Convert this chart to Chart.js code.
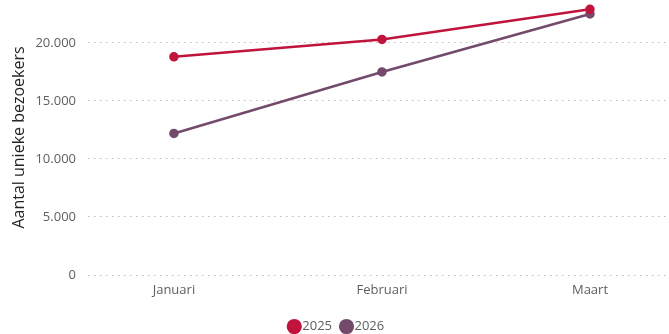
<!DOCTYPE html>
<html>
<head>
<meta charset="utf-8">
<script src="https://cdn.jsdelivr.net/npm/chart.js@4.4.1/dist/chart.umd.min.js"></script>
<style>
  html, body { margin: 0; padding: 0; background: #fff; }
  #wrap { width: 669px; height: 334px; }
</style>
</head>
<body>
<div id="wrap"><canvas id="c"></canvas></div>
<script>
// Monthly unique visitors, two years side by side
const months = ['Januari', 'Februari', 'Maart'];
const visitors2025 = [18800, 20300, 22900];
const visitors2026 = [12200, 17500, 22500];
const yTicks = [0, 5000, 10000, 15000, 20000];

const FONT = '"Segoe UI", "Open Sans", sans-serif';

const toPoints = arr => arr.map((v, i) => ({ x: i, y: v }));

new Chart(document.getElementById('c'), {
  type: 'line',
  data: {
    datasets: [
      {
        label: '2025',
        data: toPoints(visitors2025),
        borderColor: '#C0143C',
        backgroundColor: '#C0143C',
        borderWidth: 2.5,
        pointRadius: 3.5,
        pointHoverRadius: 3.5,
        tension: 0
      },
      {
        label: '2026',
        data: toPoints(visitors2026),
        borderColor: '#744A6C',
        backgroundColor: '#744A6C',
        borderWidth: 2.5,
        pointRadius: 3.5,
        pointHoverRadius: 3.5,
        tension: 0
      }
    ]
  },
  options: {
    responsive: true,
    maintainAspectRatio: false,
    animation: false,
    clip: false,
    layout: { autoPadding: false, padding: { top: 0, right: 1, bottom: -9, left: 9 } },
    plugins: {
      tooltip: { enabled: false },
      legend: {
        position: 'bottom',
        labels: {
          usePointStyle: true,
          pointStyle: 'circle',
          boxWidth: 3,
          boxHeight: 9,
          padding: 13,
          color: '#605E5C',
          font: { family: FONT, size: 13 }
        }
      }
    },
    scales: {
      x: {
        type: 'linear',
        min: -0.413,
        max: 2.375,
        afterFit: s => { s.height = 32; },
        border: { display: false },
        grid: { display: false, drawTicks: false },
        ticks: {
          stepSize: 1,
          includeBounds: false,
          autoSkip: false,
          maxRotation: 0,
          padding: 7,
          color: '#605E5C',
          font: { family: FONT, size: 13 },
          callback: v => months[v] !== undefined && Number.isInteger(v) ? months[v] : ''
        }
      },
      y: {
        min: 0,
        max: 23700,
        afterFit: s => { s.width = 79; s.paddingTop = 0; s.paddingBottom = 0; },
        afterBuildTicks: s => { s.ticks = yTicks.map(v => ({ value: v })); },
        border: { display: false, dash: [1.5, 4.5] },
        grid: {
          color: '#BDBDBD',
          lineWidth: 1,
          drawTicks: false
        },
        ticks: {
          padding: 12,
          color: '#605E5C',
          font: { family: FONT, size: 13 },
          callback: v => v.toLocaleString('nl-NL')
        },
        title: {
          display: true,
          text: 'Aantal unieke bezoekers',
          color: '#252423',
          padding: { top: 1, bottom: 0 },
          font: { family: FONT, size: 16 }
        }
      }
    }
  }
});
</script>
</body>
</html>
